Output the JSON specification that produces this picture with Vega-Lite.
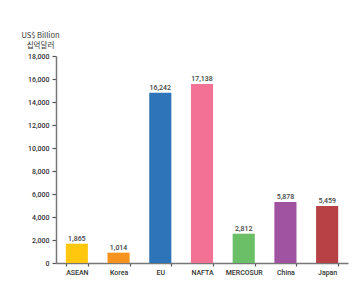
{
  "$schema": "https://vega.github.io/schema/vega-lite/v6.json",
  "autosize": {"type": "none"},
  "width": 292,
  "height": 207,
  "padding": {"left": 56, "top": 56, "right": 7, "bottom": 41},
  "background": "white",
  "config": {
    "view": {"stroke": null},
    "font": "Roboto"
  },
  "data": {
    "values": [
      {"region": "ASEAN", "value": 1680, "label": "1,865"},
      {"region": "Korea", "value": 900, "label": "1,014"},
      {"region": "EU", "value": 14800, "label": "16,242"},
      {"region": "NAFTA", "value": 15560, "label": "17,138"},
      {"region": "MERCOSUR", "value": 2550, "label": "2,812"},
      {"region": "China", "value": 5300, "label": "5,878"},
      {"region": "Japan", "value": 4960, "label": "5,459"}
    ]
  },
  "encoding": {
    "x": {
      "field": "region",
      "type": "nominal",
      "sort": null,
      "scale": {"paddingInner": 0.47, "paddingOuter": 0.235},
      "axis": {
        "title": null,
        "labelAngle": 0,
        "tickBand": "extent",
        "domainColor": "#777777",
        "domainWidth": 1.5,
        "tickColor": "#555555",
        "tickSize": 3,
        "tickWidth": 1.2,
        "labelFont": "Roboto",
        "labelFontSize": 7,
        "labelFontWeight": 500,
        "labelColor": "#333333",
        "labelPadding": 2
      }
    },
    "y": {
      "field": "value",
      "type": "quantitative",
      "scale": {"domain": [0, 18000], "nice": false},
      "axis": {
        "values": [0, 2000, 4000, 6000, 8000, 10000, 12000, 14000, 16000, 18000],
        "format": ",d",
        "grid": false,
        "title": ["US$ Billion", "십억달러"],
        "titleAngle": 0,
        "titleAlign": "center",
        "titleBaseline": "top",
        "titleX": -16,
        "titleY": -25,
        "titleFontSize": 7.5,
        "titleFontWeight": "normal",
        "titleColor": "#333333",
        "titleLineHeight": 10,
        "titleFont": "Noto Sans CJK KR",
        "domainColor": "#777777",
        "domainWidth": 1.5,
        "tickColor": "#555555",
        "tickSize": 4,
        "tickWidth": 1.2,
        "labelFont": "Roboto",
        "labelFontSize": 7,
        "labelFontWeight": 500,
        "labelColor": "#333333",
        "labelPadding": 3
      }
    }
  },
  "layer": [
    {
      "mark": {"type": "bar"},
      "encoding": {
        "color": {
          "field": "region",
          "type": "nominal",
          "sort": null,
          "legend": null,
          "scale": {
            "domain": ["ASEAN", "Korea", "EU", "NAFTA", "MERCOSUR", "China", "Japan"],
            "range": ["#FFC80E", "#F6921E", "#2E74B8", "#F27194", "#6BBF67", "#A053A0", "#B84145"]
          }
        }
      }
    },
    {
      "mark": {"type": "text", "baseline": "bottom", "dy": -2, "fontSize": 7, "fontWeight": 500, "font": "Roboto", "color": "#444444"},
      "encoding": {"text": {"field": "label"}}
    }
  ]
}
